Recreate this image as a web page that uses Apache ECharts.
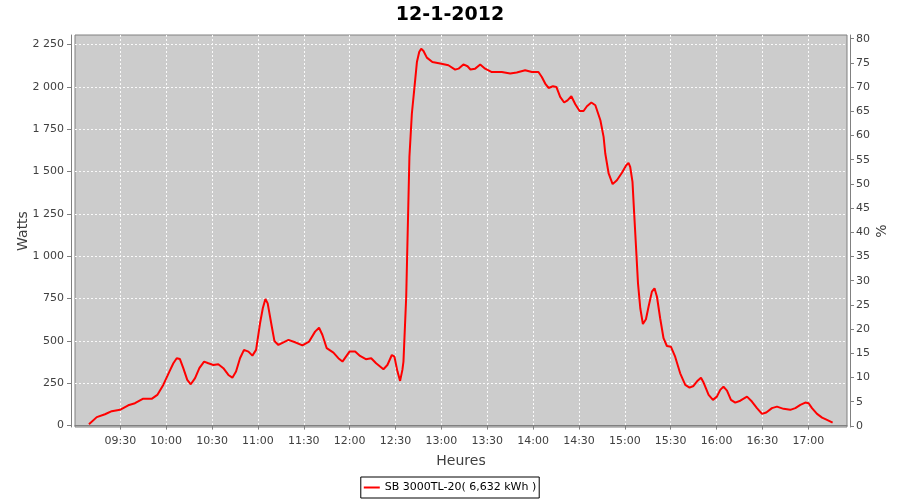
<!DOCTYPE html>
<html>
<head>
<meta charset="utf-8">
<script src="https://cdn.jsdelivr.net/npm/echarts@6/dist/echarts.min.js"></script>
<style>html,body{margin:0;padding:0;background:#fff;}#chart{width:900px;height:500px;}</style>
</head>
<body>
<div id="chart"></div>
<script>
// Time of each sample, in minutes since midnight
var minutesOfDay = [
  549.5, 554.6, 560, 564.4, 569.8, 575.2, 579.6, 584.7, 590.5, 594.2,
  598.1, 602.1, 604.7, 606.9, 609, 611.2, 613.8, 616.1, 618.9, 621.7,
  624.8, 627.6, 630.9, 634.1, 637.4, 640.7, 643.3, 645.7, 648.3, 650.9,
  653.8, 656.4, 658.8, 661.4, 663.2, 664.9, 666.4, 669.1, 670.8, 673.4,
  676.7, 680, 684.3, 689.1, 693.5, 697.4, 700, 702.2, 705, 709.4,
  712.6, 715.3, 719.9, 723.6, 726.8, 730.6, 734.1, 737.3, 742.1, 744.7,
  747.6, 749.3, 751.3, 753, 754.5, 755.2, 757, 759.1, 760.7, 762.2,
  764, 765.5, 766.8, 768.3, 770.5, 774.1, 779.2, 784.6, 789, 791.2,
  794.4, 797.1, 799, 802.1, 805.4, 808.6, 813, 819.5, 825, 829.3,
  834.8, 839.2, 843.5, 845.7, 847.9, 850.1, 853, 855.2, 857.7, 860.3,
  862.5, 865, 867.6, 870.4, 873, 875.2, 878.1, 880.7, 884, 886.1,
  887.2, 889.4, 892, 894.8, 898.1, 900.9, 902.4, 903.5, 905, 906.1,
  907.3, 908.6, 910.1, 911.8, 913.8, 915.5, 917.7, 919.4, 921, 923.1,
  925.3, 927.5, 930.1, 932.9, 936.2, 939.5, 942.3, 944.9, 947.6, 949.8,
  951.5, 954.8, 957.6, 960.2, 962.4, 964.5, 966.8, 969.4, 972.2, 975.5,
  979.9, 983.1, 986.4, 989.7, 992.5, 996.2, 999.5, 1003.8, 1008.2, 1011.5,
  1014.8, 1018, 1020.2, 1022.4, 1025.7, 1029, 1032.2, 1035.9
];
// Power (Watts) for SB 3000TL-20
var watts = [
  8, 50, 67, 85, 93, 120, 132, 158, 158, 181,
  240, 319, 368, 398, 393, 339, 270, 244, 280, 339,
  378, 368, 358, 362, 339, 299, 283, 319, 398, 447,
  437, 413, 447, 604, 693, 748, 722, 584, 500, 476,
  492, 506, 492, 474, 496, 555, 578, 535, 457, 431,
  398, 378, 437, 437, 411, 392, 398, 368, 333, 358,
  417, 407, 319, 264, 329, 378, 761, 1587, 1843, 1980,
  2147, 2206, 2226, 2212, 2173, 2147, 2138, 2128, 2102, 2108,
  2133, 2122, 2103, 2108, 2132, 2108, 2088, 2088, 2079, 2085,
  2098, 2088, 2088, 2059, 2020, 1994, 2004, 2000, 1941, 1908,
  1921, 1945, 1898, 1858, 1858, 1886, 1908, 1892, 1803, 1705,
  1607, 1489, 1426, 1449, 1493, 1538, 1551, 1528, 1439, 1253,
  1056, 840, 693, 600, 628, 702, 791, 811, 761, 634,
  516, 470, 466, 407, 309, 240, 224, 234, 265, 283,
  254, 181, 152, 171, 211, 230, 206, 152, 136, 147,
  171, 142, 103, 69, 77, 103, 112, 99, 93, 103,
  122, 136, 132, 103, 69, 47, 34, 18
];
var xTickLabels = ['09:30','10:00','10:30','11:00','11:30','12:00','12:30','13:00','13:30','14:00','14:30','15:00','15:30','16:00','16:30','17:00'];
var wattTicks = [0, 250, 500, 750, 1000, 1250, 1500, 1750, 2000, 2250];
var percentTicks = [0, 5, 10, 15, 20, 25, 30, 35, 40, 45, 50, 55, 60, 65, 70, 75, 80];
var seriesName = 'SB 3000TL-20( 6,632 kWh )';
var titleText = '12-1-2012';

function labelToMinutes(s) { var p = s.split(':'); return (+p[0]) * 60 + (+p[1]); }
function minutesToLabel(m) {
  var h = Math.floor(m / 60), mm = Math.round(m - h * 60);
  return (h < 10 ? '0' : '') + h + ':' + (mm < 10 ? '0' : '') + mm;
}
function fmtWatts(v) {
  if (v >= 1000) { var r = v % 1000; return Math.floor(v / 1000) + ' ' + (r < 10 ? '00' : r < 100 ? '0' : '') + r; }
  return String(v);
}

var xTickValues = xTickLabels.map(labelToMinutes);
var lineData = minutesOfDay.map(function (m, i) { return [m, watts[i]]; });

var FONT = 'DejaVu Sans';
var AXIS_GRAY = '#808080';
var LABEL = '#404040';

var chart = echarts.init(document.getElementById('chart'), null, { renderer: 'canvas' });
chart.setOption({
  animation: false,
  backgroundColor: '#ffffff',
  textStyle: { fontFamily: FONT },
  title: {
    text: titleText, left: 'center', top: 3, padding: [3, 5],
    textStyle: { fontFamily: FONT, fontSize: 19, fontWeight: 'bold', color: '#000' }
  },
  legend: {
    data: [seriesName], left: 'center', top: 477,
    borderColor: '#000', borderWidth: 1, padding: [4, 3, 4, 3],
    icon: 'rect', itemWidth: 16, itemHeight: 2, itemGap: 5,
    textStyle: { fontFamily: FONT, fontSize: 11, color: '#000', lineHeight: 13 }
  },
  grid: {
    left: 75, right: 53, top: 35, bottom: 73,
    show: true, backgroundColor: '#CCCCCC', borderColor: AXIS_GRAY, borderWidth: 1
  },
  xAxis: {
    type: 'value', min: 540.37, max: 1045.3, offset: 3,
    name: 'Heures', nameLocation: 'middle', nameGap: 24,
    nameTextStyle: { fontFamily: FONT, fontSize: 14, color: LABEL },
    axisLine: { show: true, lineStyle: { color: AXIS_GRAY, width: 1 } },
    axisTick: { show: true, length: 4, lineStyle: { color: AXIS_GRAY }, customValues: xTickValues },
    axisLabel: { customValues: xTickValues, formatter: minutesToLabel, fontSize: 11, color: LABEL, margin: 6, fontFamily: FONT },
    splitLine: { show: true, lineStyle: { color: '#FAFAFA', type: [2, 2], width: 1 } }
  },
  yAxis: [{
    type: 'value', position: 'left', min: -8.3, max: 2306.7, offset: 4,
    name: 'Watts', nameLocation: 'middle', nameRotate: 90, nameGap: 41, nameMoveOverlap: false,
    nameTextStyle: { fontFamily: FONT, fontSize: 14, color: LABEL },
    axisLine: { show: true, lineStyle: { color: AXIS_GRAY, width: 1 } },
    axisTick: { show: true, length: 4, lineStyle: { color: AXIS_GRAY }, customValues: wattTicks },
    axisLabel: { customValues: wattTicks, formatter: fmtWatts, fontSize: 11, color: LABEL, margin: 7, fontFamily: FONT },
    splitLine: { show: true, lineStyle: { color: '#FAFAFA', type: [2, 2], width: 1 } }
  }, {
    type: 'value', position: 'right', min: -0.23, max: 80.76, offset: 3,
    name: '%', nameLocation: 'middle', nameRotate: 90, nameGap: 25, nameMoveOverlap: false,
    nameTextStyle: { fontFamily: FONT, fontSize: 14, color: LABEL },
    axisLine: { show: true, lineStyle: { color: AXIS_GRAY, width: 1 } },
    axisTick: { show: true, length: 4, lineStyle: { color: AXIS_GRAY }, customValues: percentTicks },
    axisLabel: { customValues: percentTicks, fontSize: 11, color: LABEL, margin: 6, fontFamily: FONT },
    splitLine: { show: false }
  }],
  series: [{
    name: seriesName, type: 'line', yAxisIndex: 0, data: lineData,
    showSymbol: false, symbol: 'none',
    lineStyle: { color: '#FF0000', width: 2 }, itemStyle: { color: '#FF0000' }
  }]
});
</script>
</body>
</html>
